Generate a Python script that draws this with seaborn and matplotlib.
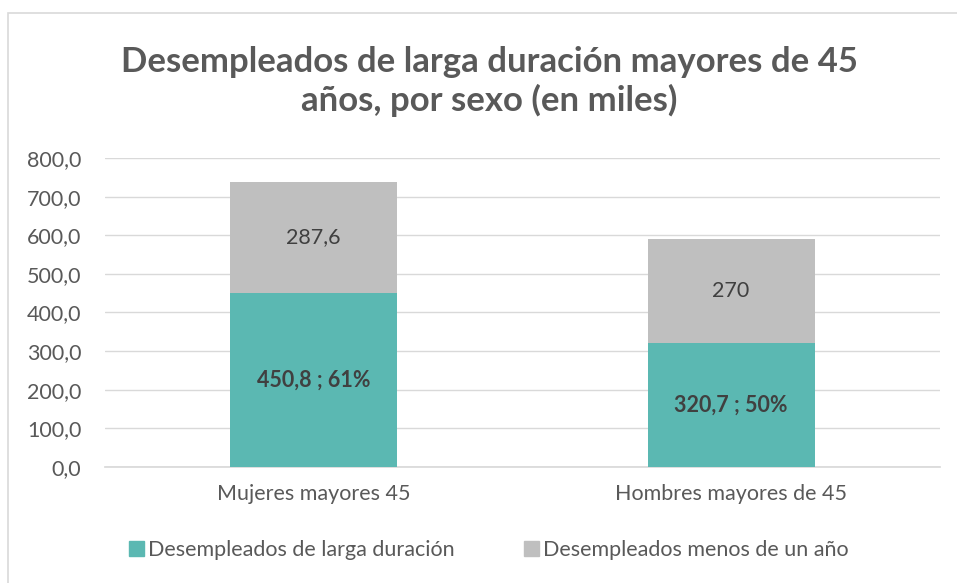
import matplotlib
matplotlib.use("Agg")
import matplotlib.pyplot as plt
import matplotlib.patches as mpatches
import seaborn as sns
import pandas as pd

# --- Data ---
categorias = ["Mujeres mayores 45", "Hombres mayores de 45"]
larga_duracion = [450.8, 320.7]
menos_un_anio = [287.6, 270]
etiquetas_larga = ["450,8 ; 61%", "320,7 ; 50%"]
etiquetas_menos = ["287,6", "270"]
yticks = [0, 100, 200, 300, 400, 500, 600, 700, 800]

TEAL = "#5BB8B2"
GRIS = "#BFBFBF"
TEXTO = "#595959"

sns.set_theme(style="white")
plt.rcParams['font.family'] = ['Lato', 'DejaVu Sans']

df = pd.DataFrame({
    "categoria": categorias,
    "larga": larga_duracion,
    "menos": menos_un_anio,
})
df["total"] = df["larga"] + df["menos"]

fig = plt.figure(figsize=(9.57, 5.83), dpi=100)
ax = fig.add_axes([0.1097, 0.199, 0.8723, 0.530])

# stacked bars: total in grey, long-term on top in teal
sns.barplot(data=df, x="categoria", y="total", color=GRIS, width=0.4,
            saturation=1, linewidth=0, ax=ax, zorder=2)
sns.barplot(data=df, x="categoria", y="larga", color=TEAL, width=0.4,
            saturation=1, linewidth=0, ax=ax, zorder=3)

for i, row in df.iterrows():
    ax.text(i, row["larga"] / 2, etiquetas_larga[i], ha="center", va="center",
            fontsize=15.5, fontweight="bold", color="#404040", zorder=4)
    ax.text(i, row["larga"] + row["menos"] / 2, etiquetas_menos[i], ha="center",
            va="center", fontsize=15.5, color="#404040", zorder=4)

ax.set_ylim(0, 800)
ax.set_yticks(yticks)
ax.set_yticklabels([f"{v:.1f}".replace(".", ",") for v in yticks])
ax.set_xlim(-0.5, 1.5)
ax.set_xlabel("")
ax.set_ylabel("")
ax.grid(axis="y", color="#D9D9D9", linewidth=1, zorder=0)
ax.set_axisbelow(True)
for s in ["left", "right", "top"]:
    ax.spines[s].set_visible(False)
ax.spines["bottom"].set_color("#D9D9D9")
ax.tick_params(axis="both", length=0, labelsize=15.5, colors=TEXTO)
ax.tick_params(axis="x", pad=12)
ax.tick_params(axis="y", pad=17)

fig.text(0.511, 0.860, "Desempleados de larga duración mayores de 45\naños, por sexo (en miles)",
         ha="center", va="center", fontsize=25, fontweight="bold", color=TEXTO,
         linespacing=1.22)

handles = [mpatches.Patch(color=TEAL, label="Desempleados de larga duración"),
           mpatches.Patch(color=GRIS, label="Desempleados menos de un año")]
fig.legend(handles=handles, loc="center", bbox_to_anchor=(0.511, 0.057), ncol=2,
           frameon=False, fontsize=15.5, handlelength=0.7, handleheight=0.7,
           handletextpad=0.2, columnspacing=3.2, labelcolor=TEXTO)

# outer chart border
fig.patches.append(mpatches.Rectangle((0.008, -0.01), 1.0, (583 - 13) / 583 + 0.01,
                                      transform=fig.transFigure, fill=False,
                                      edgecolor="#D9D9D9", linewidth=1.2))

fig.savefig("out.png", dpi=100)
